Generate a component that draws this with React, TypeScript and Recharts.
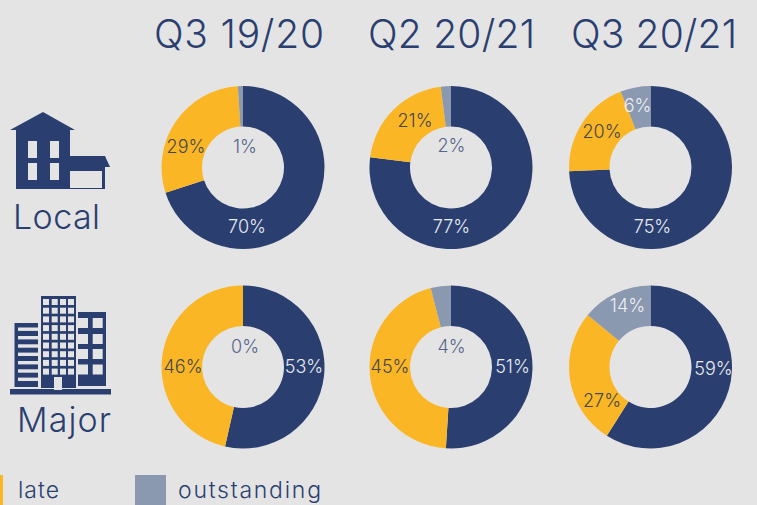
import { PieChart, Pie } from 'recharts'

const SERIES = ['on time', 'late', 'outstanding']
const QUARTERS = ['Q3 19/20', 'Q2 20/21', 'Q3 20/21']
const ROWS = ['Local', 'Major']

const LOCAL_VALUES = [
  [70, 29, 1],
  [77, 21, 2],
  [75, 20, 6],
]
const MAJOR_VALUES = [
  [53, 46, 0],
  [51, 45, 4],
  [59, 27, 14],
]

const LEGEND_LABELS = ['late', 'outstanding']

const NAVY = '#2a3f70'
const YELLOW = '#fab625'
const GREY = '#8a98b0'
const BG = '#e4e4e4'
const FONT = 'Inter, "Open Sans", sans-serif'
const SLICE_COLORS = [NAVY, YELLOW, GREY]
const LABEL_COLORS = ['#e9ebf0', '#45474c', '#eef0f4']
const HOLE_LABEL_COLOR = '#56658a'

const COL_X = [243, 451, 650.5]
const ROW_Y = [167.5, 367]

// label centres relative to each donut centre, the source places them by hand
const LABEL_OFFSETS = [
  [[[4, 59], [-57, -21], [2, -21]], [[0.5, 59], [-36, -47.5], [0.5, -22.5]], [[2, 59], [-48.5, -36], [-13, -62]]],
  [[[61, -1], [-60, -1], [2, -21]], [[61.5, -1], [-61, -1], [0.5, -21]], [[63, 1], [-48.5, 33], [-23, -62]]],
]

function House() {
  return (
    <g fill={NAVY}>
      <path d="M10 130 L43 112 L75 130 L70 130 L70 156 L105 156 L110 167 L105 167 L105 189 L16 189 L16 130 Z" />
      <g fill={BG}>
        <rect x={28} y={141} width={9} height={17} />
        <rect x={50} y={141} width={9} height={17} />
        <rect x={28} y={163} width={9} height={17} />
        <rect x={50} y={163} width={9} height={17} />
        <rect x={70} y={171} width={32} height={17} />
      </g>
    </g>
  )
}

function Towers() {
  const cols = [43, 51.7, 60, 68]
  const rows = [299, 307.7, 316.4, 325.1, 333.8, 342.5, 351.2, 359.9, 368.6]
  const slats = [327.5, 336, 344.3, 352.6, 361, 369.3, 377.6]
  const wingRows = [318, 334, 349, 364.5]
  return (
    <g fill={NAVY}>
      <rect x={10} y={389} width={101} height={5.5} />
      <rect x={41} y={296} width={35} height={92} />
      <rect x={14.5} y={323} width={23.5} height={64} />
      <rect x={78} y={312} width={28} height={74} />
      <g fill={BG}>
        {cols.flatMap(x => rows.map(y => <rect key={`${x}-${y}`} x={x} y={y} width={6} height={6} />))}
        <rect x={54} y={377} width={8} height={13} />
        {slats.map(y => <rect key={y} x={18} y={y} width={20} height={3.4} />)}
        {wingRows.map(y => <rect key={y} x={78} y={y} width={10} height={10} />)}
        {wingRows.map(y => <rect key={`r${y}`} x={92.7} y={y} width={10} height={10} />)}
      </g>
    </g>
  )
}

export default function App() {
  const allValues = [LOCAL_VALUES, MAJOR_VALUES]
  return (
    <div style={{ position: 'absolute', left: 0, top: 0, width: 757, height: 505, background: BG, overflow: 'hidden', fontFamily: FONT }}>
      <div style={{ position: 'absolute', left: 0, top: 0 }}>
        <PieChart width={757} height={505} margin={{ top: 0, right: 0, bottom: 0, left: 0 }}>
          {allValues.map((rowValues, r) =>
            rowValues.map((values, c) => {
              const data = SERIES.map((name, i) => ({ name, value: values[i], fill: SLICE_COLORS[i] }))
              const renderLabel = (props: any) => {
                const i = props.index
                const [dx, dy] = LABEL_OFFSETS[r][c][i]
                const inHole = Math.hypot(dx, dy) < 41
                return (
                  <text
                    key={i}
                    x={COL_X[c] + dx}
                    y={ROW_Y[r] + dy}
                    textAnchor="middle"
                    dominantBaseline="central"
                    fontFamily={FONT}
                    fontSize={18}
                    fontWeight={300}
                    fill={inHole ? HOLE_LABEL_COLOR : LABEL_COLORS[i]}
                  >
                    {values[i]}%
                  </text>
                )
              }
              return (
                <Pie
                  key={`${r}-${c}`}
                  data={data}
                  dataKey="value"
                  nameKey="name"
                  cx={COL_X[c]}
                  cy={ROW_Y[r]}
                  innerRadius={41}
                  outerRadius={81.5}
                  startAngle={90}
                  endAngle={-270}
                  stroke="none"
                  label={renderLabel}
                  labelLine={false}
                  isAnimationActive={false}
                />
              )
            }),
          )}
        </PieChart>
      </div>

      <svg width={757} height={505} style={{ position: 'absolute', left: 0, top: 0 }}>
        {QUARTERS.map((q, i) => (
          <text key={q} x={[154, 368, 571][i]} y={48} fontFamily={FONT} fontSize={39} fontWeight={300} fill={NAVY} textLength={[170, 167, 166][i]} lengthAdjust="spacing">
            {q}
          </text>
        ))}
        <House />
        <Towers />
        <text x={13} y={229} fontFamily={FONT} fontSize={34} fontWeight={300} fill={NAVY} textLength={87} lengthAdjust="spacing">{ROWS[0]}</text>
        <text x={17} y={432} fontFamily={FONT} fontSize={34} fontWeight={300} fill={NAVY} textLength={94} lengthAdjust="spacing">{ROWS[1]}</text>

        <rect x={-28} y={475} width={31} height={30} fill={YELLOW} />
        <rect x={135} y={475} width={31} height={30} fill={GREY} />
        <text x={18} y={498} fontFamily={FONT} fontSize={23} fontWeight={300} fill={NAVY} textLength={41}>{LEGEND_LABELS[0]}</text>
        <text x={178} y={498} fontFamily={FONT} fontSize={23} fontWeight={300} fill={NAVY} textLength={143}>{LEGEND_LABELS[1]}</text>
      </svg>
    </div>
  )
}
